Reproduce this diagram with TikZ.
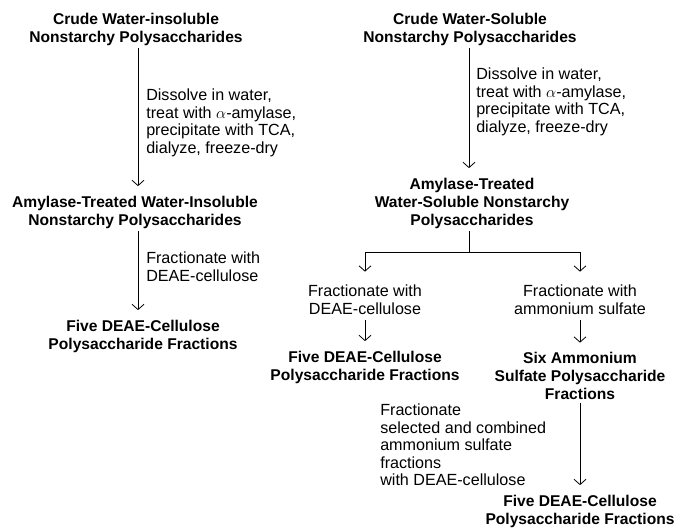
\documentclass[tikz,border=0pt]{standalone}
\usepackage{fontspec}
\setmainfont{Liberation Sans}
\usetikzlibrary{positioning, arrows.meta}

\tikzset{
  stage/.style={align=center, inner sep=2pt, font=\fontsize{11.7}{13.5}\selectfont\bfseries},
  howto/.style={align=left, inner sep=0pt, font=\fontsize{12.1}{13.2}\selectfont},
  flow/.style={draw, line width=0.6pt, -{Straight Barb[length=4pt,width=9pt]}, shorten >=5pt}
}

\begin{document}
\begin{tikzpicture}[x=0.75pt, y=-0.75pt]
  \useasboundingbox (0,0) rectangle (674,529);
  % water-insoluble branch
  \node[stage] (crudeIns) at (136,29) {Crude Water-insoluble\\Nonstarchy Polysaccharides};
  \node[stage] (treatIns) at (135,212) {Amylase-Treated Water-Insoluble\\Nonstarchy Polysaccharides};
  \node[stage] (deaeIns) at (143,336) {Five DEAE-Cellulose\\Polysaccharide Fractions};
  \node[howto, anchor=west] (dissIns) at (146,123) {Dissolve in water,\\treat with $\alpha$-amylase,\\precipitate with TCA,\\dialyze, freeze-dry};
  \node[howto, anchor=west] (fracIns) at (146,267) {Fractionate with\\DEAE-cellulose};
  \draw[flow] (crudeIns.south -| 138,0) -- (treatIns.north -| 138,0);
  \draw[flow] (treatIns.south -| 138,0) -- (deaeIns.north -| 138,0);
  % water-soluble branch
  \node[stage] (crudeSol) at (470,29) {Crude Water-Soluble\\Nonstarchy Polysaccharides};
  \node[stage] (treatSol) at (472,203) {Amylase-Treated\\Water-Soluble Nonstarchy\\Polysaccharides};
  \node[howto, anchor=west] (dissSol) at (476,102) {Dissolve in water,\\treat with $\alpha$-amylase,\\precipitate with TCA,\\dialyze, freeze-dry};
  \draw[flow] (crudeSol.south -| 469,0) -- (treatSol.north -| 469,0);
  \node[howto, align=center] (fracDeae) at (365,300) {Fractionate with\\DEAE-cellulose};
  \node[howto, align=center] (fracAmm) at (580,300) {Fractionate with\\ammonium sulfate};
  \node[stage] (deaeSol) at (365,367) {Five DEAE-Cellulose\\Polysaccharide Fractions};
  \node[stage] (ammSol) at (580,376) {Six Ammonium\\Sulfate Polysaccharide\\Fractions};
  \node[howto, anchor=west] (fracComb) at (380,445) {Fractionate\\selected and combined\\ammonium sulfate\\fractions\\with DEAE-cellulose};
  \node[stage] (deaeAmm) at (580,511) {Five DEAE-Cellulose\\Polysaccharide Fractions};
  \coordinate (fork) at (469,252);
  \draw[line width=0.6pt] (treatSol.south -| fork) -- (fork);
  \draw[flow, shorten >=10pt] (fork) -| (fracDeae.north);
  \draw[flow, shorten >=10pt] (fork) -| (fracAmm.north);
  \draw[flow] ([yshift=-4pt]fracDeae.south) -- (deaeSol.north);
  \draw[flow] ([yshift=-4pt]fracAmm.south) -- (ammSol.north);
  \draw[flow] (ammSol.south) -- (deaeAmm.north);
\end{tikzpicture}
\end{document}
